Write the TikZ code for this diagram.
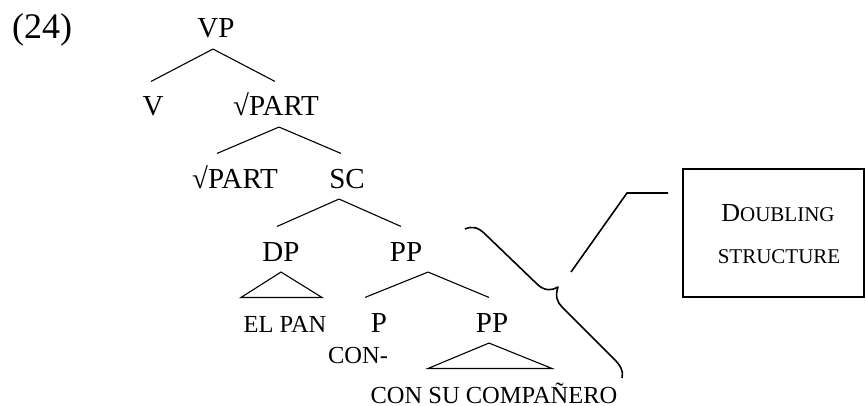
\documentclass[tikz,border=0pt]{standalone}
\usepackage{fontspec}
\setmainfont{Liberation Serif}
\usepackage{tikz}

\tikzset{
    cat/.style={font=\fontsize{29}{32}\selectfont, inner sep=0pt, anchor=base,
        text height=34pt, text depth=10.5pt},
    word/.style={cat, font=\fontsize{24.5}{27}\selectfont},
    heavy/.style={line width=1.6pt},
}

\begin{document}
\begin{tikzpicture}[x=1pt, y=-1pt, line width=1.1pt]
    \useasboundingbox (0,0) rectangle (866,406);

    \node[font=\fontsize{36}{40}\selectfont, anchor=base, inner sep=0pt](ex) at (42,39) {(24)};

    \node[cat](vp)      at (216,38)  {VP};
    \node[cat](v)       at (153,116) {V};
    \node[cat](part1)   at (276,116) {√PART};
    \node[cat](part2)   at (235,188) {√PART};
    \node[cat](sc)      at (347,188) {SC};
    \node[cat](dp)      at (281,261) {DP};
    \node[cat](pp1)     at (406,261) {PP};
    \node[word](pan)    at (285,332) {EL PAN};
    \node[cat](p)       at (379,332) {P};
    \node[cat](pp2)     at (492,332) {PP};
    \node[word](con)    at (358,363) {CON-};
    \node[word, text depth=1pt](comp) at (494,403) {CON SU COMPAÑERO};
    \path
        ([xshift=-3pt]vp.south)
            edge ([xshift=-2pt]v.north)
            edge ([xshift=-1pt]part1.north)
        ([xshift=3pt]part1.south)
            edge ([xshift=-18pt]part2.north)
            edge ([xshift=-6pt]sc.north)
        ([xshift=-8pt]sc.south)
            edge ([xshift=-4pt]dp.north)
            edge ([xshift=-5pt]pp1.north)
        ([xshift=22pt]pp1.south)
            edge ([xshift=-14pt]p.north)
            edge ([xshift=-3pt]pp2.north)
        ;
    \draw (dp.south) -- ([xshift=-44pt]pan.north) -- ([xshift=37pt]pan.north) -- cycle;
    \draw ([xshift=-3pt]pp2.south) -- ([xshift=-66pt]comp.north)
        -- ([xshift=58pt]comp.north) -- cycle;

    % brace over the doubling part
    \draw[heavy, line join=round] (465,229) .. controls (472,226) and (478,227) .. (485,234)
        -- (537,284) .. controls (544,291) and (552,291) .. (558,287)
        .. controls (555,296) and (557,302) .. (562,307)
        -- (614,359) .. controls (620,365) and (624,371) .. (622,378);

    \node[draw, heavy, minimum width=181pt, minimum height=128pt, inner sep=0pt](box)
        at (773.5,233) {};
    \node[anchor=base, inner sep=0pt](dbl) at (778,221)
        {\fontsize{26}{28}\selectfont D\fontsize{21}{24}\selectfont OUBLING};
    \node[anchor=base, inner sep=0pt, font=\fontsize{21}{24}\selectfont](str)
        at (779,263) {STRUCTURE};

    \coordinate (tip)  at (571,272);
    \coordinate (knee) at (627,193);
    \coordinate (lead) at (668,193);
    \draw[heavy] (tip) -- (knee) -- (lead);
\end{tikzpicture}
\end{document}
